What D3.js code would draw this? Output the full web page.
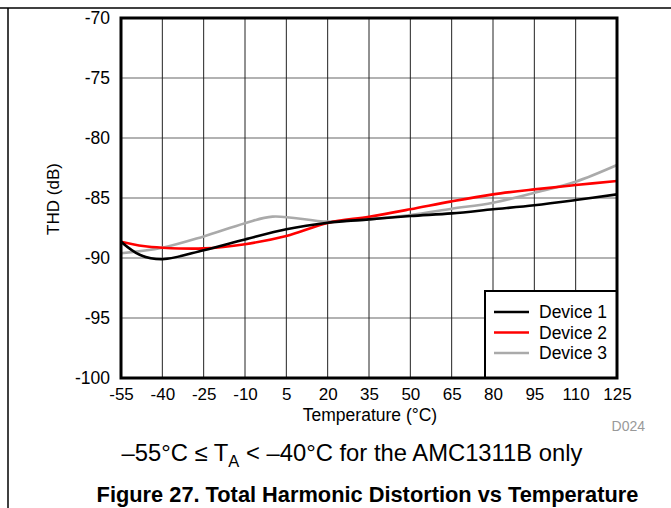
<!DOCTYPE html>
<html><head><meta charset="utf-8">
<script src="https://cdn.jsdelivr.net/npm/d3@7"></script>
<style>body{margin:0;background:#fff}svg{display:block;font-family:Arial,"Liberation Sans",sans-serif}</style>
</head><body><svg id="c" width="671" height="508"></svg>
<script>
const xTicks = [-55,-40,-25,-10,5,20,35,50,65,80,95,110,125];
const yTicks = [-100,-95,-90,-85,-80,-75,-70];
const seriesNames = ["Device 1","Device 2","Device 3"];
const seriesColors = ["#000000","#ff0000","#aaaaaa"];
const dev1T = [-55,-48,-40,-25,-10,5,20,35,50,65,80,95,110,125];
const dev1V = [-88.64,-89.75,-90.1,-89.35,-88.45,-87.6,-87.06,-86.78,-86.5,-86.28,-85.94,-85.6,-85.17,-84.7];
const dev2T = [-55,-47,-40,-25,-10,5,20,35,50,65,80,95,110,125];
const dev2V = [-88.64,-89.0,-89.14,-89.2,-88.85,-88.17,-87.08,-86.56,-85.94,-85.28,-84.7,-84.28,-83.92,-83.58];
const dev3T = [-55,-40,-25,-10,0,20,35,50,65,80,95,110,125];
const dev3V = [-89.6,-89.14,-88.2,-87.1,-86.55,-86.97,-86.78,-86.42,-85.9,-85.39,-84.56,-83.64,-82.25];

const FF = "Arial,'Liberation Sans',sans-serif";
const svg = d3.select("#c");
const L=121,R=617,T=18,B=378;
const x = d3.scaleLinear().domain([-55,125]).range([L,R]);
const y = d3.scaleLinear().domain([-100,-70]).range([B,T]);

// outer frame lines
svg.append("line").attr("x1",0).attr("x2",671).attr("y1",8).attr("y2",8).attr("stroke","#000").attr("stroke-width",1.5);
svg.append("line").attr("x1",8).attr("x2",8).attr("y1",8).attr("y2",508).attr("stroke","#000").attr("stroke-width",1.5);

// grid
svg.append("g").selectAll("line").data(yTicks.slice(1,-1)).join("line")
  .attr("x1",L).attr("x2",R).attr("y1",d=>y(d)).attr("y2",d=>y(d)).attr("stroke","#666").attr("stroke-width",1.2);
svg.append("g").selectAll("line").data(xTicks.slice(1,-1)).join("line")
  .attr("x1",d=>x(d)).attr("x2",d=>x(d)).attr("y1",T).attr("y2",B).attr("stroke","#222").attr("stroke-width",1);

// axes labels
const xa = d3.axisBottom(x).tickValues(xTicks).tickSize(0).tickPadding(0).tickFormat(d=>d);
const gx = svg.append("g").attr("transform",`translate(0,${B})`).call(xa);
gx.select(".domain").remove();
gx.selectAll("text").attr("dy",null).attr("y",22).attr("font-size",17).attr("fill","#000").attr("font-family",FF);
const ya = d3.axisLeft(y).tickValues(yTicks).tickSize(0).tickPadding(11).tickFormat(d=>d);
const gy = svg.append("g").attr("transform",`translate(${L},0)`).call(ya);
gy.select(".domain").remove();
gy.selectAll("text").attr("font-size",17.5).attr("fill","#000").attr("font-family",FF);

svg.append("text").attr("x",370).attr("y",421).attr("text-anchor","middle").attr("font-size",17.5).text("Temperature (°C)");
svg.append("text").attr("transform","translate(59,199) rotate(-90)").attr("text-anchor","middle").attr("font-size",17).text("THD (dB)");
svg.append("text").attr("x",645).attr("y",431).attr("text-anchor","end").attr("font-size",14).attr("fill","#999").text("D024");

// lines
svg.append("clipPath").attr("id","pc").append("rect").attr("x",L).attr("y",T).attr("width",R-L).attr("height",B-T);
const line = d3.line().x(d=>x(d[0])).y(d=>y(d[1])).curve(d3.curveCatmullRom.alpha(0.5));
const data = [d3.zip(dev1T,dev1V), d3.zip(dev2T,dev2V), d3.zip(dev3T,dev3V)];
const drawOrder=[2,1,0];
svg.append("g").attr("clip-path","url(#pc)").selectAll("path").data(drawOrder).join("path")
  .attr("d",i=>line(data[i])).attr("fill","none").attr("stroke",i=>seriesColors[i]).attr("stroke-width",2.6);

// legend
const lg = svg.append("g");
lg.append("rect").attr("x",485).attr("y",291).attr("width",R-485).attr("height",B-291).attr("fill","#fff").attr("stroke","#000").attr("stroke-width",2);
seriesNames.forEach((n,i)=>{
  const yy = 312 + i*20.5;
  lg.append("line").attr("x1",494).attr("x2",529).attr("y1",yy).attr("y2",yy).attr("stroke",seriesColors[i]).attr("stroke-width",2.6);
  lg.append("text").attr("x",539).attr("y",yy+6).attr("font-size",17.5).text(n);
});

// plot frame
svg.append("rect").attr("x",L).attr("y",T).attr("width",R-L).attr("height",B-T).attr("fill","none").attr("stroke","#000").attr("stroke-width",3);

// captions
const cap = svg.append("text").attr("x",352).attr("y",461).attr("text-anchor","middle").attr("font-size",23.8);
cap.append("tspan").text("\u201355°C \u2264 T");
cap.append("tspan").attr("font-size",16.5).attr("dy",6).text("A");
cap.append("tspan").attr("dy",-6).text(" < \u201340°C for the AMC1311B only");
svg.append("text").attr("x",367.5).attr("y",502).attr("text-anchor","middle").attr("font-size",21.8).attr("font-weight","bold").text("Figure 27. Total Harmonic Distortion vs Temperature");
</script></body></html>
